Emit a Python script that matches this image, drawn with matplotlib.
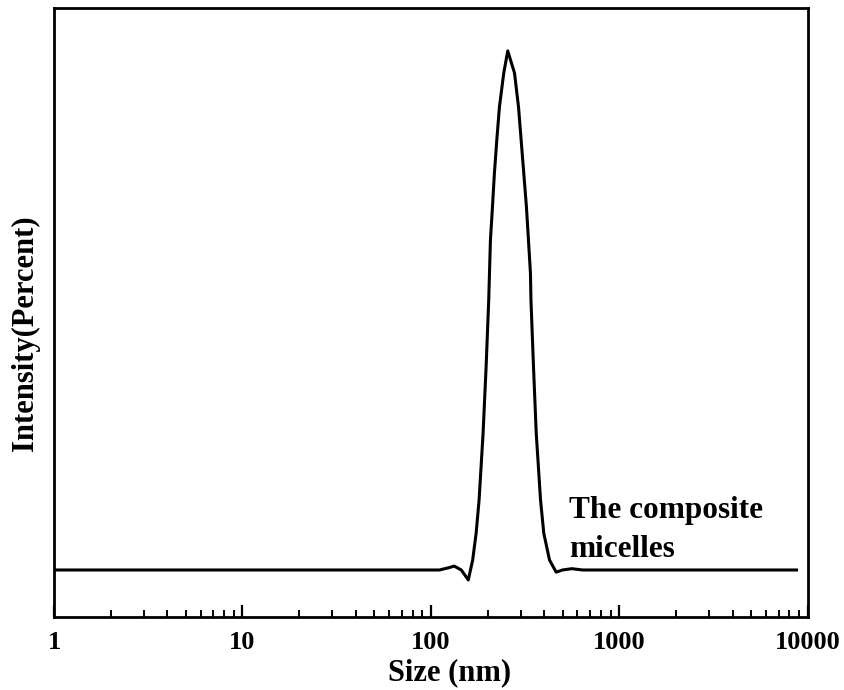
import matplotlib
matplotlib.use("Agg")
import matplotlib.pyplot as plt
from matplotlib.ticker import LogLocator, NullFormatter, FixedLocator

plt.rcParams['font.family'] = ['Liberation Serif', 'DejaVu Serif']
plt.rcParams['font.weight'] = 'bold'

# size distribution (nm, intensity %)
size_nm = [1, 10, 100, 111, 124, 133, 145, 158, 166.7, 173.9, 180.3, 189.3,
           196.4, 202.8, 207.1, 212.3, 217.4, 223.8, 231.2, 243.7, 255.9,
           277.9, 291.8, 301.4, 311.2, 321.5, 329.5, 337.7, 339.8, 350.6,
           362.4, 381.9, 397.4, 426.3, 462.5, 499.6, 560, 640, 1000, 3000, 8720]
intensity = [0, 0, 0, 0, 0.05, 0.09, 0.0, -0.23, 0.23, 0.85, 1.62, 3.16,
             4.68, 6.23, 7.62, 8.38, 9.16, 9.92, 10.69, 11.47, 11.98,
             11.47, 10.69, 9.92, 9.16, 8.38, 7.62, 6.85, 6.23, 4.68,
             3.16, 1.62, 0.85, 0.23, -0.05, 0.0, 0.03, 0.0, 0, 0, 0]

xticks = [1, 10, 100, 1000, 10000]
xtick_labels = ["1", "10", "100", "1000", "10000"]

fig = plt.figure(figsize=(8.44, 6.90), dpi=100)
ax = fig.add_axes([0.064, 0.1058, 0.893, 0.8826])

ax.plot(size_nm, intensity, color='black', linewidth=2.2)

ax.set_xscale('log')
ax.set_xlim(1, 10000)
ax.set_ylim(-1.085, 12.97)

ax.xaxis.set_major_locator(FixedLocator(xticks))
ax.set_xticklabels(xtick_labels)
ax.xaxis.set_minor_locator(LogLocator(base=10, subs=range(2, 10)))
ax.xaxis.set_minor_formatter(NullFormatter())
ax.tick_params(axis='x', which='major', direction='in', length=9, width=1.6,
               labelsize=19, pad=10)
ax.tick_params(axis='x', which='minor', direction='in', length=5, width=1.4)
ax.set_yticks([])

for s in ax.spines.values():
    s.set_linewidth(2.0)

ax.set_xlabel("Size (nm)", fontsize=22, fontweight='bold')
ax.xaxis.set_label_coords(0.525, -0.068)
ax.set_ylabel("Intensity(Percent)", fontsize=22, fontweight='bold')
ax.yaxis.set_label_coords(-0.018, 0.466)

ax.text(544, 1.2, "The composite", fontsize=22.5, fontweight='bold',
        ha='left', va='baseline')
ax.text(544, 0.3, "micelles", fontsize=22.5, fontweight='bold',
        ha='left', va='baseline')

fig.savefig("out.png", dpi=100)
